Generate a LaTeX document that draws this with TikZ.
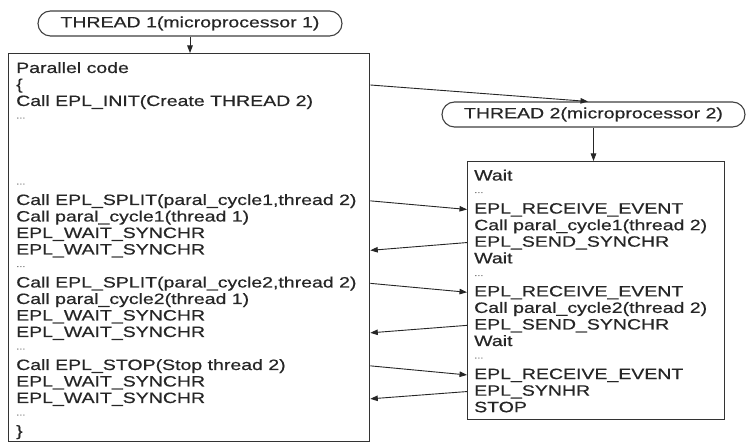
\documentclass[tikz,border=0pt]{standalone}
\usepackage{fontspec}
\setmainfont{Liberation Sans}[FakeStretch=1.3,FakeBold=0.5]
\usetikzlibrary{arrows.meta,calc}

\begin{document}
\begin{tikzpicture}[x=1pt,y=-1pt,
  every node/.style={font=\fontsize{15}{16.5}\selectfont, text=black!85, inner sep=0pt},
  frame/.style={draw=black!80, line width=1.3pt, inner sep=0pt, anchor=north west},
  oval/.style={draw=black!75, line width=1.1pt, rounded corners=12.5pt, minimum height=25pt, inner sep=0pt},
  codeline/.style={anchor=base west},
  gapline/.style={anchor=base west, text=black!50, font=\fontsize{8.5}{8.5}\selectfont},
  arr/.style={draw=black!85, line width=0.9pt, -{Triangle[length=7.5pt,width=5.5pt]}},
]
\useasboundingbox (0,0) rectangle (748,443);
\fill[white] (0,0) rectangle (748,443);

% thread headers
\node[oval, minimum width=304pt] (T1) at (190,23.5) {THREAD 1(microprocessor 1)};
\node[oval, minimum width=303pt] (T2) at (593.5,114.5) {THREAD 2(microprocessor 2)};

% code frames
\node[frame, minimum width=361pt, minimum height=388pt] (L) at (8,53) {};
\node[frame, minimum width=257pt, minimum height=258pt] (R) at (467,161) {};

% thread 1 code
\node[codeline] (a0)  at (16,73)    {Parallel code};
\node[codeline] (a1)  at (16,89.5)  {\{};
\node[codeline] (a2)  at (16,106)   {Call EPL\_INIT(Create THREAD 2)};
\node[gapline]  (a3)  at (16,118.5) {...};
\node[gapline]  (a7)  at (16,184.5) {...};
\node[codeline] (a8)  at (16,205)   {Call EPL\_SPLIT(paral\_cycle1,thread 2)};
\node[codeline] (a9)  at (16,221.5) {Call paral\_cycle1(thread 1)};
\node[codeline] (a10) at (16,238)   {EPL\_WAIT\_SYNCHR};
\node[codeline] (a11) at (16,254.5) {EPL\_WAIT\_SYNCHR};
\node[gapline]  (a12) at (16,267)   {...};
\node[codeline] (a13) at (16,287.5) {Call EPL\_SPLIT(paral\_cycle2,thread 2)};
\node[codeline] (a14) at (16,304)   {Call paral\_cycle2(thread 1)};
\node[codeline] (a15) at (16,320.5) {EPL\_WAIT\_SYNCHR};
\node[codeline] (a16) at (16,337)   {EPL\_WAIT\_SYNCHR};
\node[gapline]  (a17) at (16,349.5) {...};
\node[codeline] (a18) at (16,370)   {Call EPL\_STOP(Stop thread 2)};
\node[codeline] (a19) at (16,386.5) {EPL\_WAIT\_SYNCHR};
\node[codeline] (a20) at (16,403)   {EPL\_WAIT\_SYNCHR};
\node[gapline]  (a21) at (16,415.5) {...};
\node[codeline] (a22) at (16,436)   {\}};

% thread 2 code
\node[codeline] (b0)  at (474,180.5) {Wait};
\node[gapline]  (b1)  at (474,193)   {...};
\node[codeline] (b2)  at (474,213.6) {EPL\_RECEIVE\_EVENT};
\node[codeline] (b3)  at (474,230.2) {Call paral\_cycle1(thread 2)};
\node[codeline] (b4)  at (474,246.7) {EPL\_SEND\_SYNCHR};
\node[codeline] (b5)  at (474,263.3) {Wait};
\node[gapline]  (b6)  at (474,276)   {...};
\node[codeline] (b7)  at (474,296.4) {EPL\_RECEIVE\_EVENT};
\node[codeline] (b8)  at (474,312.9) {Call paral\_cycle2(thread 2)};
\node[codeline] (b9)  at (474,329.5) {EPL\_SEND\_SYNCHR};
\node[codeline] (b10) at (474,346)   {Wait};
\node[gapline]  (b11) at (474,358.5) {...};
\node[codeline] (b12) at (474,379.1) {EPL\_RECEIVE\_EVENT};
\node[codeline] (b13) at (474,395.7) {EPL\_SYNHR};
\node[codeline] (b14) at (474,412.2) {STOP};

% control flow
\draw[arr] (T1.south) -- (T1.south |- L.north);
\draw[arr] (T2.south) -- (T2.south |- R.north);
\draw[arr] ([yshift=-32pt]L.north east) -- ([xshift=-5.5pt]T2.north);

% events and synchronisation between the threads
\draw[arr] ($(a8.mid -| L.east)+(0,-1.5)$)  -- ($(b2.mid -| R.west)+(0,-1.5)$);
\draw[arr] ($(b4.mid -| R.west)+(0,-1.5)$)  -- ($(a11.mid -| L.east)+(0,-1.5)$);
\draw[arr] ($(a13.mid -| L.east)+(0,-1.5)$) -- ($(b7.mid -| R.west)+(0,-1.5)$);
\draw[arr] ($(b9.mid -| R.west)+(0,-1.5)$)  -- ($(a16.mid -| L.east)+(0,-1.5)$);
\draw[arr] ($(a18.mid -| L.east)+(0,-1.5)$) -- ($(b12.mid -| R.west)+(0,-1.5)$);
\draw[arr] ($(b13.mid -| R.west)+(0,-1.5)$) -- ($(a20.mid -| L.east)+(0,-1.5)$);
\end{tikzpicture}
\end{document}
